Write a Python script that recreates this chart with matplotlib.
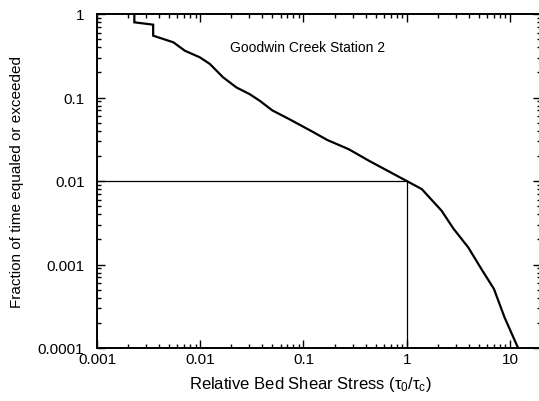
import matplotlib.pyplot as plt
from matplotlib.ticker import FixedLocator, LogLocator, NullFormatter

plt.rcParams['font.family'] = ['Liberation Sans', 'DejaVu Sans']
plt.rcParams['mathtext.fontset'] = 'custom'
plt.rcParams['mathtext.rm'] = 'Liberation Sans'
plt.rcParams['mathtext.it'] = 'Liberation Sans'

# Exceedance curve: relative bed shear stress vs fraction of time
stress = [0.0023, 0.0023, 0.0035, 0.0035, 0.0055, 0.0071, 0.0099, 0.0124,
          0.0166, 0.0224, 0.030, 0.0376, 0.050, 0.073, 0.122, 0.17, 0.275, 0.43,
          1.0, 1.4, 2.18, 2.83, 3.95, 5.3, 7.0, 8.9, 12.0]
fraction = [1.0, 0.795, 0.745, 0.55, 0.458, 0.363, 0.303, 0.252,
            0.175, 0.132, 0.110, 0.0916, 0.070, 0.055, 0.039, 0.031, 0.024, 0.0175,
            0.010, 0.0080, 0.0044, 0.0027, 0.0016, 0.00088, 0.00051, 0.00023, 0.0001]

# threshold marker at tau0/tauc = 1
ref_stress = 1.0
ref_fraction = 0.01

x_ticks = [0.001, 0.01, 0.1, 1, 10]
x_labels = ['0.001', '0.01', '0.1', '1', '10']
y_ticks = [0.0001, 0.001, 0.01, 0.1, 1]
y_labels = ['0.0001', '0.001', '0.01', '0.1', '1']

fig = plt.figure(figsize=(5.39, 4.02), dpi=100)
ax = fig.add_axes([97 / 539, 53 / 402, 444 / 539, 334 / 402])

ax.plot(stress, fraction, color='black', lw=1.6, solid_joinstyle='miter')
ax.plot([0.001, ref_stress], [ref_fraction, ref_fraction], color='black', lw=0.9)
ax.plot([ref_stress, ref_stress], [0.0001, ref_fraction], color='black', lw=0.9)

ax.set_xscale('log')
ax.set_yscale('log')
ax.set_xlim(0.001, 20)
ax.set_ylim(0.0001, 1)

ax.xaxis.set_major_locator(FixedLocator(x_ticks))
ax.set_xticklabels(x_labels)
ax.yaxis.set_major_locator(FixedLocator(y_ticks))
ax.set_yticklabels(y_labels)
ax.xaxis.set_minor_locator(LogLocator(base=10, subs=range(2, 10)))
ax.yaxis.set_minor_locator(LogLocator(base=10, subs=range(2, 10)))
ax.xaxis.set_minor_formatter(NullFormatter())
ax.yaxis.set_minor_formatter(NullFormatter())

ax.tick_params(which='both', direction='in', top=True, right=True, width=1.0,
               labelsize=11, colors='black')
ax.tick_params(which='major', length=6)
ax.tick_params(which='minor', length=3)
ax.tick_params(axis='y', pad=9)
ax.tick_params(axis='x', pad=3)

for sp in ax.spines.values():
    sp.set_linewidth(1.4)

ax.set_xlabel(r'Relative Bed Shear Stress ($\tau_0/\tau_c$)', fontsize=12)
ax.xaxis.set_label_coords(0.48, -0.077)
ax.set_ylabel('Fraction of time equaled or exceeded', fontsize=11, labelpad=10)

ax.text(0.3, 0.90, 'Goodwin Creek Station 2', transform=ax.transAxes,
        fontsize=10, ha='left', va='center')

fig.savefig('out.png', dpi=100)
